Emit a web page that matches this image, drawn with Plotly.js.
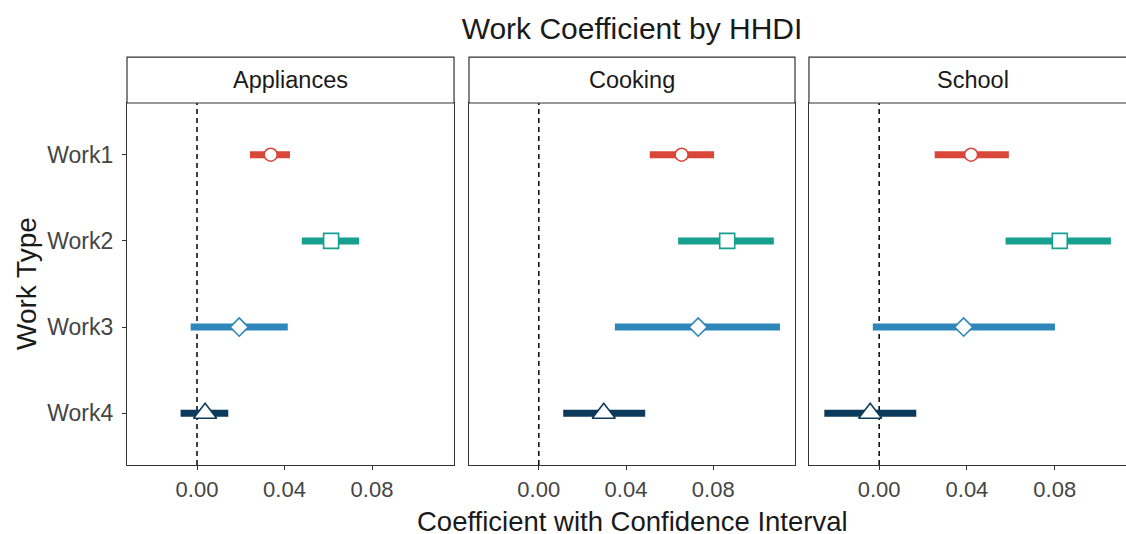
<!DOCTYPE html>
<html>
<head>
<meta charset="utf-8">
<script src="https://cdn.plot.ly/plotly-3.0.1.min.js"></script>
<style>
  html, body { margin: 0; padding: 0; overflow: hidden; background: #fff; width: 1126px; height: 534px; }
  #chart { width: 1140px; height: 534px; }
</style>
</head>
<body>
<div id="chart"></div>
<script>
// ---- data ----
const categories = ['Work1', 'Work2', 'Work3', 'Work4'];
const panels = ['Appliances', 'Cooking', 'School'];
const seriesColors = ['#D9463A', '#17A08F', '#2F86B8', '#0B3A5C'];
const markerSymbols = ['circle', 'square', 'diamond', 'triangle-up'];
const markerSizes = [13, 15, 14, 20];
const tickValues = [0, 0.04, 0.08];
const tickLabels = ['0.00', '0.04', '0.08'];

const estAppliances = [0.0337, 0.0613, 0.0193, 0.0037];
const loAppliances  = [0.0242, 0.0479, -0.0029, -0.0075];
const hiAppliances  = [0.0425, 0.0741, 0.0415, 0.0143];

const estCooking = [0.0655, 0.0864, 0.0731, 0.0298];
const loCooking  = [0.0509, 0.0639, 0.0349, 0.0112];
const hiCooking  = [0.0804, 0.1078, 0.1106, 0.0488];

const estSchool = [0.0419, 0.0823, 0.0385, -0.0041];
const loSchool  = [0.0253, 0.0576, -0.0029, -0.0250];
const hiSchool  = [0.0591, 0.1056, 0.0801, 0.0169];

const panelData = [
  {est: estAppliances, lo: loAppliances, hi: hiAppliances},
  {est: estCooking, lo: loCooking, hi: hiCooking},
  {est: estSchool, lo: loSchool, hi: hiSchool}
];

// ---- traces ----
const traces = [];
panelData.forEach((pd, p) => {
  const xa = p === 0 ? 'x' : 'x' + (p + 1);
  const ya = p === 0 ? 'y' : 'y' + (p + 1);
  categories.forEach((cat, i) => {
    traces.push({
      type: 'scatter', mode: 'markers',
      x: [pd.est[i]], y: [cat],
      xaxis: xa, yaxis: ya,
      showlegend: false, hoverinfo: 'x+y',
      error_x: {
        type: 'data', symmetric: false,
        array: [pd.hi[i] - pd.est[i]],
        arrayminus: [pd.est[i] - pd.lo[i]],
        color: seriesColors[i], thickness: 7, width: 0
      },
      marker: {
        symbol: markerSymbols[i], size: markerSizes[i],
        color: '#ffffff',
        line: {color: seriesColors[i], width: 1.6}
      }
    });
  });
});

// ---- layout ----
const FONT = 'Liberation Sans, Arial, sans-serif';
const domains = [[0, 0.3238], [0.3386, 0.6614], [0.6752, 1]];
const xRange = [-0.032, 0.1175];
const yRange = [3.6, -0.6];

const layout = {
  width: 1140, height: 534,
  margin: {l: 127, r: 3, t: 103, b: 69, pad: 0},
  paper_bgcolor: '#ffffff', plot_bgcolor: '#ffffff',
  font: {family: FONT, color: '#1a1a1a'},
  showlegend: false,
  title: {
    text: 'Work Coefficient by HHDI',
    font: {family: FONT, size: 30, color: '#1a1a1a'},
    x: 0.5, xref: 'paper', xanchor: 'center',
    y: 1 - 28 / 534, yref: 'container', yanchor: 'middle'
  },
  shapes: [],
  annotations: []
};

domains.forEach((d, p) => {
  const sx = p === 0 ? '' : String(p + 1);
  layout['xaxis' + sx] = {
    domain: d, range: xRange, anchor: 'y' + sx,
    tickvals: tickValues, ticktext: tickLabels,
    ticks: 'outside', ticklen: 4, tickwidth: 1, tickcolor: '#333333',
    showline: true, linecolor: '#333333', linewidth: 1.2, mirror: true,
    showgrid: false, zeroline: false,
    tickfont: {family: FONT, size: 22, color: '#454545'}
  };
  layout['yaxis' + sx] = {
    domain: [0, 1], range: yRange, anchor: 'x' + sx,
    type: 'category', categoryorder: 'array', categoryarray: categories,
    ticks: p === 0 ? 'outside' : '', ticklen: 4, tickcolor: '#333333',
    ticklabelstandoff: 4,
    showticklabels: p === 0,
    showline: true, linecolor: '#333333', linewidth: 1.2, mirror: true,
    showgrid: false, zeroline: false,
    tickfont: {family: FONT, size: 23, color: '#454545'}
  };
  // zero reference line
  layout.shapes.push({
    type: 'line', xref: 'x' + sx, yref: 'y' + sx + ' domain',
    x0: 0, x1: 0, y0: 0, y1: 1,
    line: {color: '#111111', width: 1.6, dash: '5px,4px'},
    layer: 'below'
  });
  // strip box
  layout.shapes.push({
    type: 'rect', xref: 'x' + sx + ' domain', yref: 'paper',
    x0: 0, x1: 1, y0: 1, y1: 1.127,
    line: {color: '#333333', width: 1.2}, fillcolor: '#ffffff'
  });
  layout.annotations.push({
    text: panels[p], showarrow: false,
    xref: 'x' + sx + ' domain', yref: 'paper',
    x: 0.5, y: 1.0635, xanchor: 'center', yanchor: 'middle',
    font: {family: FONT, size: 23.5, color: '#1a1a1a'}
  });
});

// axis titles
layout.annotations.push({
  text: 'Coefficient with Confidence Interval', showarrow: false,
  xref: 'paper', yref: 'paper', x: 0.5, y: (465 - 521) / 362,
  xanchor: 'center', yanchor: 'middle',
  font: {family: FONT, size: 27.5, color: '#1a1a1a'}
});
layout.annotations.push({
  text: 'Work Type', showarrow: false, textangle: -90,
  xref: 'paper', yref: 'paper', x: (26 - 127) / 1010, y: 0.5,
  xanchor: 'center', yanchor: 'middle',
  font: {family: FONT, size: 28, color: '#1a1a1a'}
});

Plotly.newPlot('chart', traces, layout, {displayModeBar: false, staticPlot: true});
</script>
</body>
</html>
